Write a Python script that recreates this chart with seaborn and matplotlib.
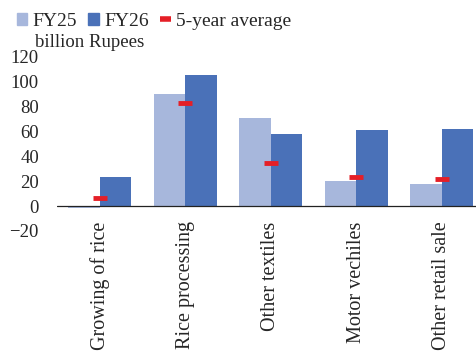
import numpy as np
import pandas as pd
import matplotlib
matplotlib.use("Agg")
import matplotlib.pyplot as plt
import seaborn as sns
from matplotlib.patches import Patch
from matplotlib.lines import Line2D

sectors = ["Growing of rice", "Rice processing", "Other textiles", "Motor vechiles", "Other retail sale"]
fy25 = [-1.5, 90, 71, 20, 18]
fy26 = [23.5, 105, 58, 61, 62]
avg5 = [6.7, 82.5, 35, 23, 22]
yticks = [-20, 0, 20, 40, 60, 80, 100, 120]

c25 = "#A7B7DC"
c26 = "#4A71B8"
cred = "#E51F27"

df = pd.DataFrame({
    "sector": sectors * 2,
    "value": fy25 + fy26,
    "year": ["FY25"] * len(sectors) + ["FY26"] * len(sectors),
})

sns.set_style("white")
plt.rcParams["font.family"] = ["Liberation Serif", "DejaVu Serif"]
plt.rcParams["font.size"] = 13.5

fig = plt.figure(figsize=(4.77, 3.52), dpi=100)
ax = fig.add_axes([0.1195, 0.3438, 0.896, 0.495])

sns.barplot(data=df, x="sector", y="value", hue="year", palette=[c25, c26],
            width=0.74, saturation=1, linewidth=0, legend=False, ax=ax)
ax.plot(range(len(sectors)), avg5, ls="none", marker="_", ms=9.5, mew=3.5,
        color=cred, zorder=5)

ax.axhline(0, color="#222222", lw=0.9, zorder=6)
ax.set_xlim(-0.5, 4.5)
ax.set_ylim(-20, 120)
ax.set_yticks(yticks)
ax.tick_params(axis="y", length=0, pad=13)
ax.set_xticks([])
ax.set_xlabel("")
ax.set_ylabel("")
for s in ax.spines.values():
    s.set_visible(False)

for i, name in enumerate(sectors):
    ax.annotate(name, xy=(i, 0), xytext=(0, -11), textcoords="offset points",
                rotation=90, ha="center", va="top", fontsize=14.5)

handles = [Patch(color=c25), Patch(color=c26),
           Line2D([], [], color=cred, lw=4, solid_capstyle="butt")]
fig.legend(handles, ["FY25", "FY26", "5-year average"], ncol=3, frameon=False,
           loc="center left", bbox_to_anchor=(0.035, 0.94), fontsize=14,
           handlelength=0.55, handleheight=0.55, handletextpad=0.25,
           columnspacing=0.6, borderaxespad=0, borderpad=0)
fig.text(0.073, 0.88, "billion Rupees", ha="left", va="center", fontsize=13.5)

fig.savefig("out.png", dpi=100)
